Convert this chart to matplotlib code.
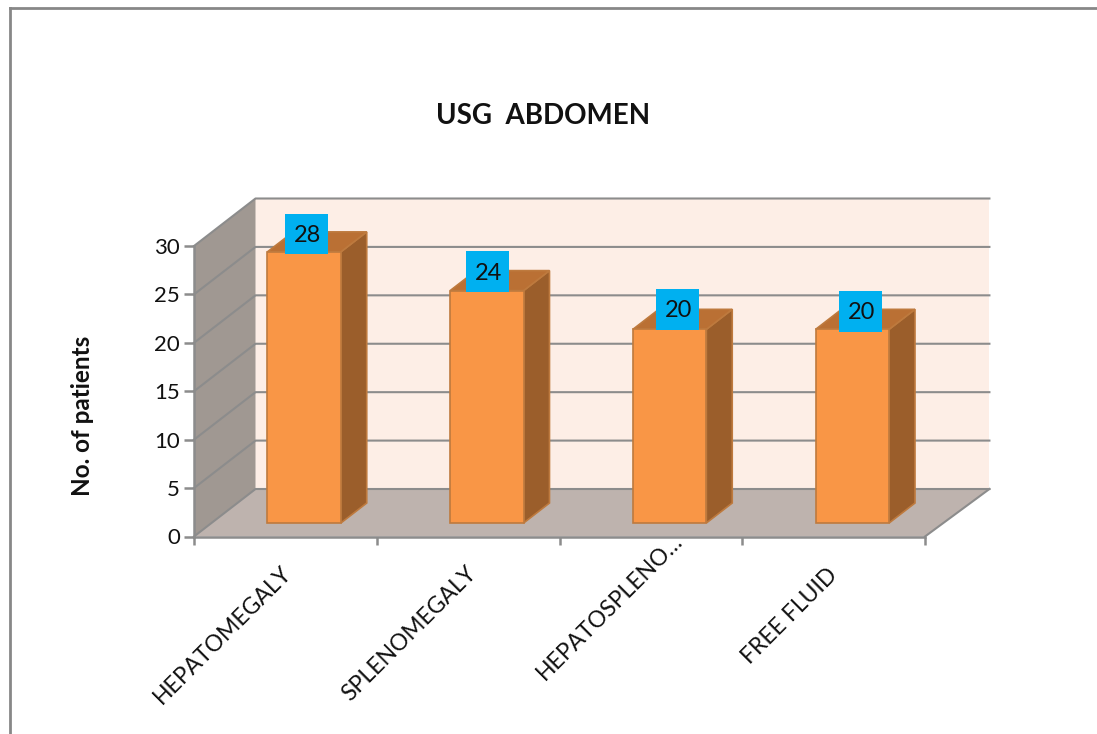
#!/usr/bin/env python3

import matplotlib.pyplot as plt
from matplotlib.lines import Line2D
from matplotlib.patches import Polygon, Rectangle
from matplotlib.transforms import ScaledTranslation

plt.rcParams["font.family"] = ["Lato", "DejaVu Sans"]

TITLE = "USG  ABDOMEN"
Y_LABEL = "No. of patients"
CATEGORIES = ["HEPATOMEGALY", "SPLENOMEGALY", "HEPATOSPLENO…", "FREE FLUID"]
PATIENTS = [28, 24, 20, 20]
Y_TICKS = [0, 5, 10, 15, 20, 25, 30]

# oblique projection of the fake 3d box, in (category, value) units
DEPTH_X = 0.3365
DEPTH_Y = 4.905
BACK_EXTRA = 0.016
BAR_WIDTH = 0.402
BAR_FRONT = 0.284
BAR_BACK = 0.705
BAR_SHIFT = 0.007

GRID = "#8C8C8C"
WALL = "#FDEEE6"
SIDE_WALL = "#A09892"
FLOOR = "#BEB3AE"
BAR_FACE = "#F99646"
BAR_TOP = "#BA7034"
BAR_SIDE = "#9B5E2B"
BAR_EDGE = "#BE7A3E"
LABEL_BOX = "#00B0F0"


def at(x, value, depth):
    return x + depth * DEPTH_X, value + depth * DEPTH_Y


def draw_box(ax):
    n = len(CATEGORIES)
    back_n = n + BACK_EXTRA
    top = Y_TICKS[-1]
    ax.add_patch(Polygon([at(0, 0, 1), at(back_n, 0, 1), at(back_n, top, 1), at(0, top, 1)],
                         facecolor=WALL, edgecolor="none", clip_on=False, zorder=1))
    ax.add_patch(Polygon([at(0, 0, 0), at(0, 0, 1), at(0, top, 1), at(0, top, 0)],
                         facecolor=SIDE_WALL, edgecolor="none", clip_on=False, zorder=1))
    ax.add_patch(Polygon([at(0, 0, 0), at(n, 0, 0), at(back_n, 0, 1), at(0, 0, 1)],
                         facecolor=FLOOR, edgecolor="none", clip_on=False, zorder=1))
    for tick in Y_TICKS:
        pts = [at(0, tick, 0), at(0, tick, 1), at(back_n, tick, 1)]
        ax.plot(*zip(*pts), color=GRID, lw=1.5, clip_on=False, zorder=1.5)
    ax.plot(*zip(at(n, 0, 0), at(back_n, 0, 1)), color=GRID, lw=1.5, clip_on=False, zorder=1.5)


def draw_bar(ax, center, value):
    left = center - BAR_WIDTH / 2
    right = center + BAR_WIDTH / 2
    style = dict(edgecolor=BAR_EDGE, lw=1.2, clip_on=False, zorder=3)
    ax.add_patch(Polygon([at(right, 0, BAR_FRONT), at(right, 0, BAR_BACK),
                          at(right, value, BAR_BACK), at(right, value, BAR_FRONT)],
                         facecolor=BAR_SIDE, **style))
    ax.add_patch(Polygon([at(left, value, BAR_FRONT), at(right, value, BAR_FRONT),
                          at(right, value, BAR_BACK), at(left, value, BAR_BACK)],
                         facecolor=BAR_TOP, **style))
    ax.add_patch(Polygon([at(left, 0, BAR_FRONT), at(right, 0, BAR_FRONT),
                          at(right, value, BAR_FRONT), at(left, value, BAR_FRONT)],
                         facecolor=BAR_FACE, **style))


def main():
    fig = plt.figure(figsize=(10.97, 7.34), dpi=100)
    ax = fig.add_axes([194 / 1097, (734 - 536.5) / 734, 731 / 1097, 290.5 / 734])
    ax.set_xlim(0, len(CATEGORIES))
    ax.set_ylim(0, Y_TICKS[-1])
    ax.patch.set_visible(False)

    draw_box(ax)
    centers = [i + 0.5 for i in range(len(CATEGORIES))]
    # data labels were dragged by hand in the original, hence the nudges
    nudges = [(0.014, 1.86), (0.003, 1.96), (0.041, 2.07), (0.044, 1.86)]
    for center, value, (nudge_x, nudge_y) in zip(centers, PATIENTS, nudges):
        draw_bar(ax, center + BAR_SHIFT, value)
        x, y = at(center + BAR_SHIFT + nudge_x, value + nudge_y, BAR_FRONT)
        ax.add_patch(Rectangle((x - 0.1175, y - 2.095), 0.235, 4.19,
                               facecolor=LABEL_BOX, edgecolor="none", clip_on=False, zorder=4))
        ax.text(x + 0.006, y - 0.17, str(value), ha="center", va="center", fontsize=17,
                color="#111111", clip_on=False, zorder=5)

    for side in ("top", "right"):
        ax.spines[side].set_visible(False)
    for side in ("left", "bottom"):
        ax.spines[side].set_color(GRID)
        ax.spines[side].set_linewidth(1.8)

    ax.set_yticks(Y_TICKS)
    ax.tick_params(axis="y", length=7, width=1.8, color=GRID, labelsize=16, pad=3, labelcolor="#111111")
    ax.set_xticks(range(len(CATEGORIES) + 1))
    ax.set_xticklabels([])
    ax.tick_params(axis="x", which="major", length=6, width=1.8, color=GRID)
    ax.set_xticks(centers, minor=True)
    ax.set_xticklabels(CATEGORIES, minor=True, rotation=45, ha="right", rotation_mode="anchor",
                       fontsize=16.5, color="#111111")
    ax.tick_params(axis="x", which="minor", length=0, pad=20)

    # excel moves the long labels around, pixels right/up from the default spot
    label_shifts = [(-5, 2), (-3, 2), (21, 34), (-7, 0)]
    for label, (dx, dy) in zip(ax.get_xticklabels(minor=True), label_shifts):
        label.set_transform(label.get_transform() + ScaledTranslation(dx / 100, dy / 100, fig.dpi_scale_trans))

    fig.text(543 / 1097, 1 - 116 / 734, TITLE, ha="center", va="center", fontsize=20,
             fontweight="bold", color="#111111")
    fig.text(82 / 1097, 1 - 416 / 734, Y_LABEL, ha="center", va="center", rotation=90,
             fontsize=17.5, fontweight="bold", color="#111111")

    # outer frame of the pasted chart
    for xs, ys in (([9.5, 1097], [8, 8]), ([9.5, 9.5], [8, 734])):
        fig.add_artist(Line2D([x / 1097 for x in xs], [1 - y / 734 for y in ys],
                              color="#878787", lw=2))

    fig.savefig("out.png", dpi=100)


if __name__ == "__main__":
    main()
